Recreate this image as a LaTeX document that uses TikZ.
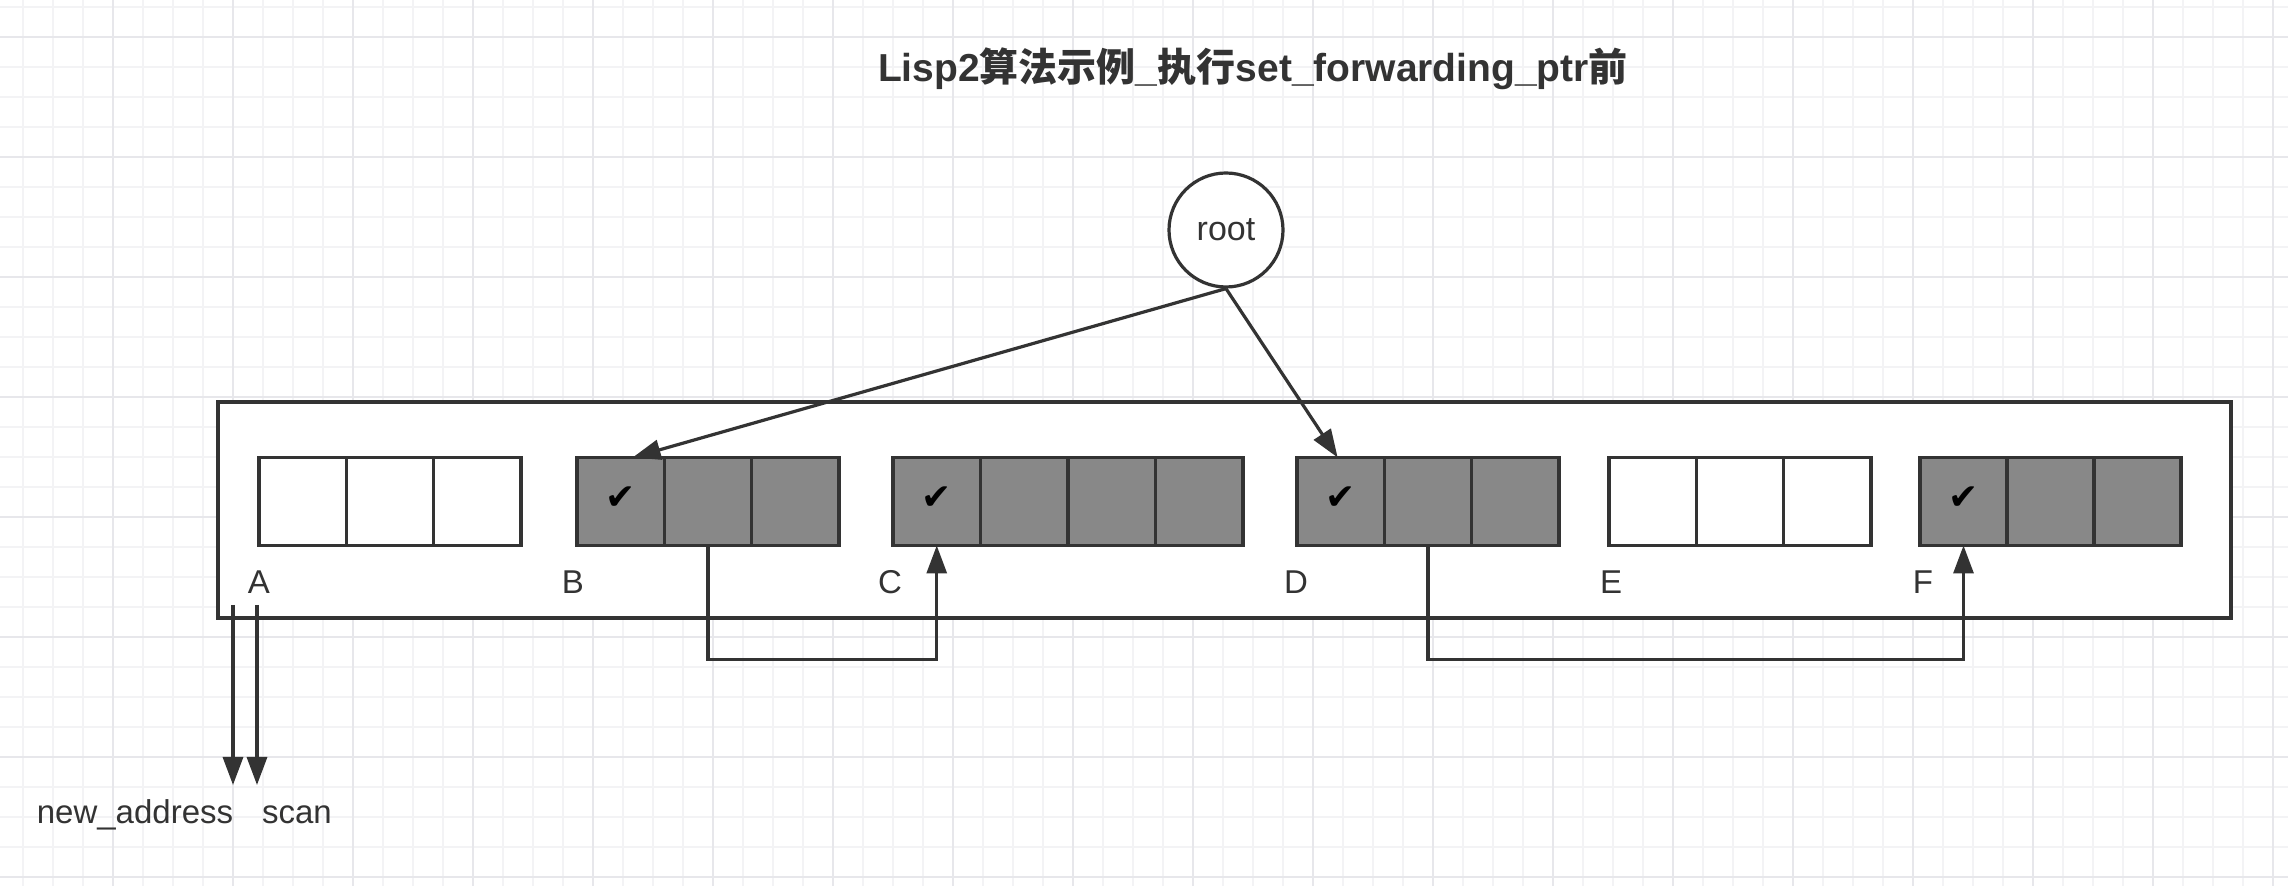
\documentclass[tikz,border=0pt]{standalone}
\usepackage{fontspec}
\setmainfont{Liberation Sans}
\newfontfamily\cjk{Noto Sans CJK SC}
\newfontfamily\symf{DejaVu Sans}
\usetikzlibrary{arrows.meta,calc}
\definecolor{ink}{HTML}{333333}
\definecolor{cellgray}{HTML}{888888}
\definecolor{gridfine}{HTML}{F3F3F5}
\definecolor{gridmajor}{HTML}{E7E7EB}
\begin{document}
\begin{tikzpicture}[x=0.5pt,y=-0.5pt,
  cell/.style={draw=ink, line width=1.8pt, minimum width=43.65pt, minimum height=44pt, inner sep=0pt, outer sep=0pt, fill=white},
  live/.style={cell, fill=cellgray},
  chk/.style={font=\symf\fontsize{18}{20}\selectfont, text=black, inner sep=0pt, yshift=1.5pt},
  lbl/.style={text=ink, font=\fontsize{16.5}{20}\selectfont, inner sep=0pt},
  conn/.style={draw=ink, line width=1.6pt, -{Triangle[length=14pt,width=10pt]}},
  frame/.style={draw=ink, line width=1.8pt, fill=white}]
\useasboundingbox (0,0) rectangle (2288,886);
\fill[white] (0,0) rectangle (2288,886);
% grid
\foreach \i in {0,...,75} \draw[gridfine, line width=0.7pt] ({23+30*\i},0) -- ({23+30*\i},886);
\foreach \j in {0,...,29} \draw[gridfine, line width=0.7pt] (0,{7+30*\j}) -- (2288,{7+30*\j});
\foreach \i in {0,...,18} \draw[gridmajor, line width=0.9pt] ({113+120*\i},0) -- ({113+120*\i},886);
\foreach \j in {0,...,7} \draw[gridmajor, line width=0.9pt] (0,{37+120*\j}) -- (2288,{37+120*\j});
% title
\node[text=ink, font=\fontsize{19.5}{24}\selectfont\bfseries] (title) at (1253,69)
  {Lisp2{\cjk 算法示例}\_{\cjk 执行}set\_forwarding\_ptr{\cjk 前}};
% heap frame
\path[frame] (218,402) rectangle (2231,618);
% A (free)
\foreach \k in {1,2,3} \node[cell] (A\k) at ({259+87.3*(\k-0.5)},501.5) {};
% B (live)
\foreach \k in {1,2,3} \node[live] (B\k) at ({577+87.3*(\k-0.5)},501.5) {};
% C (live)
\foreach \k in {1,2,3,4} \node[live] (C\k) at ({893+87.5*(\k-0.5)},501.5) {};
% D (live)
\foreach \k in {1,2,3} \node[live] (D\k) at ({1297+87.3*(\k-0.5)},501.5) {};
% E (free)
\foreach \k in {1,2,3} \node[cell] (E\k) at ({1609+87.3*(\k-0.5)},501.5) {};
% F (live)
\foreach \k in {1,2,3} \node[live] (F\k) at ({1920+87*(\k-0.5)},501.5) {};
% marks
\node[chk] (mB) at (B1) {✔};
\node[chk] (mC) at (C1) {✔};
\node[chk] (mD) at (D1) {✔};
\node[chk] (mF) at (F1) {✔};
% labels
\node[lbl] (lA) at (259,582) {A};
\node[lbl] (lB) at (573,582) {B};
\node[lbl] (lC) at (890,582) {C};
\node[lbl] (lD) at (1296,582) {D};
\node[lbl] (lE) at (1611,582) {E};
\node[lbl] (lF) at (1923,582) {F};
% root
\node[circle, draw=ink, line width=1.6pt, fill=white, minimum size=57pt, inner sep=0pt, text=ink,
  font=\fontsize{17}{20}\selectfont] (root) at (1226,230) {root};
\draw[conn] (root.south) -- ($(B1.north)+(12,0)$);
\draw[conn] (root.south) -- ($(D1.north)+(-3,0)$);
% forwarding links
\draw[conn] (B2.south) -- ++(0,114) -| (C1.south);
\draw[conn] (D2.south) -- ++(0,114) -| (F1.south);
% pointers
\coordinate (na0) at (233,605);
\coordinate (na1) at (233,785);
\coordinate (sc0) at (257,605);
\coordinate (sc1) at (257,785);
\draw[conn] (na0) -- (na1);
\draw[conn] (sc0) -- (sc1);
\node[lbl] (naL) at (135,815) {new\_address};
\node[lbl] (scL) at (297,815) {scan};
\end{tikzpicture}
\end{document}
